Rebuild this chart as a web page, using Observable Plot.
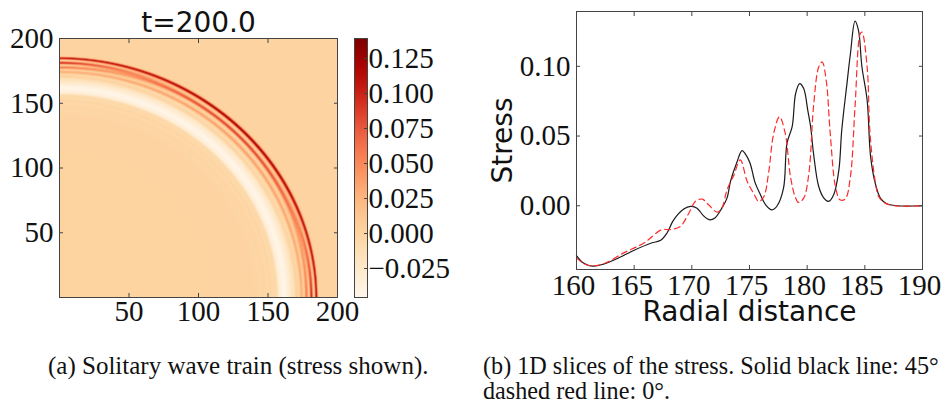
<!DOCTYPE html>
<html><head><meta charset="utf-8">
<script src="https://cdn.jsdelivr.net/npm/d3@7"></script>
<script src="https://cdn.jsdelivr.net/npm/@observablehq/plot@0.6"></script>
<style>
body{margin:0;width:941px;height:400px;overflow:hidden;background:#fff;position:relative}
.abs{position:absolute}
.cap{position:absolute;font-family:"Liberation Serif",serif;white-space:nowrap;color:#111;line-height:18px}
svg{overflow:visible}
</style></head><body>
<div id="left" class="abs" style="left:0;top:0"></div>
<div id="cbar" class="abs" style="left:354px;top:0"></div>
<div id="right" class="abs" style="left:470px;top:0"></div>
<div class="cap" style="left:48px;top:357px;font-size:25px">(a) Solitary wave train (stress shown).</div>
<div class="cap" style="left:483px;top:357px;font-size:24.2px">(b) 1D slices of the stress. Solid black line: 45°</div>
<div class="cap" style="left:483px;top:382px;font-size:24.2px">dashed red line: 0°.</div>
<script>
// ---- data ----
const title = "t=200.0";
const xLabel = "Radial distance";
const yLabel = "Stress";
const stressDomain = [-0.0457, 0.1393];
const mapTicks = [50, 100, 150, 200];
const cbarTicks = [-0.025, 0, 0.025, 0.05, 0.075, 0.1, 0.125];
const radTicks = [160, 165, 170, 175, 180, 185, 190];
const stressTicks = [0, 0.05, 0.1];

// 45 degree slice (solid black)
const blackR = [160,160.6,161.4,162.4,163.5,165.0,166.5,167.3,167.85,168.4,169.3,169.9,170.45,171.0,171.5,172.0,172.6,173.05,173.35,173.9,174.35,174.65,175.05,175.5,175.95,176.4,176.95,177.4,177.95,178.25,178.7,179.0,179.35,179.7,180.05,180.3,180.55,181.0,181.45,181.85,182.3,182.75,183.0,183.45,183.75,184.15,184.45,184.75,185.2,185.5,185.9,186.35,186.9,187.8,190];
const blackV = [-0.0357,-0.041,-0.0433,-0.0417,-0.038,-0.0319,-0.0267,-0.0248,-0.0195,-0.0105,-0.0024,-0.0005,-0.0017,-0.0071,-0.01,-0.0088,-0.0017,0.0055,0.0174,0.031,0.0395,0.0371,0.0305,0.0162,0.0079,0.0007,-0.0029,0.0,0.0126,0.0448,0.0567,0.0805,0.0876,0.084,0.0686,0.0567,0.0376,0.0138,0.0055,0.0031,0.0079,0.0257,0.0543,0.0876,0.109,0.1324,0.1257,0.0995,0.0757,0.0352,0.0162,0.0055,0.0014,0,0];
// 0 degree slice (dashed red)
const redR = [160,160.8,161.65,162.65,164.1,165.85,167.4,168.15,169.0,169.75,170.3,170.9,171.45,172.2,172.6,173.05,173.65,174.2,174.8,175.35,175.8,176.25,176.65,177.1,177.6,178.1,178.55,178.95,179.25,179.7,180.15,180.55,181.0,181.3,181.65,182.0,182.45,182.85,183.3,183.75,184.15,184.6,184.75,185.2,185.45,185.9,186.2,186.75,187.6,190];
const redV = [-0.0374,-0.0421,-0.0429,-0.0405,-0.0338,-0.0267,-0.0171,-0.0171,-0.0148,-0.0052,0.0031,0.0048,0.0007,-0.0045,-0.0017,0.0114,0.0221,0.0329,0.0174,0.009,0.0031,0.0067,0.0233,0.0519,0.0638,0.0519,0.021,0.0067,0.0024,0.0055,0.0233,0.071,0.0995,0.1031,0.09,0.0519,0.0138,0.0043,0.0048,0.021,0.071,0.1233,0.1245,0.0995,0.0519,0.0174,0.0067,0.0019,0,0];
// inner field (r < 160)
const innerR = [0,100,140,145,148,150,152,154,156,157.3,158.3,159.3];
const innerV = [0.001,0.001,0.0,-0.003,0.0,-0.005,-0.001,-0.006,-0.004,-0.02,-0.034,-0.036];

// ---- field for the map ----
const prof0 = d3.scaleLinear().domain(innerR.concat(redR)).range(innerV.concat(redV)).clamp(true);
const prof45 = d3.scaleLinear().domain(innerR.concat(blackR)).range(innerV.concat(blackV)).clamp(true);
function stress(x, y) {
  const r = Math.hypot(x, y);
  const w = Math.abs(Math.sin(2 * Math.atan2(y, x)));
  return (1 - w) * prof0(r) + w * prof45(r);
}

const serif = "Liberation Serif";
const sans = "DejaVu Sans";
const frameStroke = "#444";
const blank = () => "";

function boxAxes(xt, yt, xfmt, yfmt, xpad, ypad, xdx) {
  return [
    Plot.axisX(xt, {anchor: "bottom", tickSize: 0, tickPadding: xpad, tickFormat: xfmt, label: null, dx: xdx}),
    Plot.axisX(xt, {anchor: "bottom", tickSize: -4, tickFormat: blank, label: null, stroke: frameStroke}),
    Plot.axisX(xt, {anchor: "top", tickSize: -4, tickFormat: blank, label: null, stroke: frameStroke}),
    Plot.axisY(yt, {anchor: "left", tickSize: 0, tickPadding: ypad, tickFormat: yfmt, label: null}),
    Plot.axisY(yt, {anchor: "left", tickSize: -4, tickFormat: blank, label: null, stroke: frameStroke}),
    Plot.axisY(yt, {anchor: "right", tickSize: -4, tickFormat: blank, label: null, stroke: frameStroke})
  ];
}

const left = Plot.plot({
  width: 345, height: 340,
  marginLeft: 59, marginRight: 8, marginTop: 38, marginBottom: 43,
  style: {fontFamily: serif, fontSize: "29px", background: "transparent", color: "#111", overflow: "visible"},
  x: {domain: [0, 200]},
  y: {domain: [0, 200]},
  color: {type: "linear", scheme: "OrRd", domain: stressDomain},
  marks: [
    Plot.raster({x1: 0, y1: 0, x2: 200, y2: 200, fill: stress, pixelSize: 1}),
    Plot.frame({stroke: frameStroke}),
    ...boxAxes(mapTicks, mapTicks, d => String(d), d => String(d), 3, 6, 0),
    Plot.text([title], {text: d => d, frameAnchor: "top", lineAnchor: "middle", textAnchor: "middle", dy: -15, fontFamily: sans, fontSize: 28, fill: "#111"})
  ]
});
document.getElementById("left").append(left);

const cbar = Plot.plot({
  width: 116, height: 340,
  marginLeft: 0, marginRight: 103, marginTop: 38, marginBottom: 43,
  style: {fontFamily: serif, fontSize: "29px", background: "transparent", color: "#111", overflow: "visible"},
  x: {domain: [0, 1], axis: null},
  y: {domain: stressDomain, axis: null},
  color: {type: "linear", scheme: "OrRd", domain: stressDomain},
  marks: [
    Plot.raster({x1: 0, y1: stressDomain[0], x2: 1, y2: stressDomain[1], fill: (x, y) => y, pixelSize: 1}),
    Plot.frame({stroke: frameStroke}),
    Plot.axisY(cbarTicks, {anchor: "right", tickSize: -4, tickFormat: blank, label: null, stroke: frameStroke}),
    Plot.axisY(cbarTicks, {anchor: "right", tickSize: 0, tickPadding: 1, textAnchor: "start", tickFormat: d3.format(".3f"), label: null})
  ]
});
document.getElementById("cbar").append(cbar);

const lines = blackR.map((r, i) => ({r, v: blackV[i], s: "45"}));
const dashed = redR.map((r, i) => ({r, v: redV[i], s: "0"}));

const right = Plot.plot({
  width: 471, height: 335,
  marginLeft: 106, marginRight: 19, marginTop: 11, marginBottom: 66,
  style: {fontFamily: serif, fontSize: "29px", background: "transparent", color: "#111", overflow: "visible"},
  x: {domain: [160, 190]},
  y: {domain: stressDomain},
  marks: [
    Plot.line(lines, {x: "r", y: "v", stroke: "#1a1a1a", strokeWidth: 1.2, curve: "catmull-rom"}),
    Plot.line(dashed, {x: "r", y: "v", stroke: "#ff2a2a", strokeWidth: 1.2, strokeDasharray: "6,4", curve: "catmull-rom"}),
    Plot.frame({stroke: frameStroke}),
    ...boxAxes(radTicks, stressTicks, d => String(d), d3.format(".2f"), 5, 6, -3),
    Plot.text([yLabel], {text: d => d, frameAnchor: "left", lineAnchor: "middle", textAnchor: "middle", rotate: -90, dx: -73, fontFamily: sans, fontSize: 28, fill: "#111"}),
    Plot.text([xLabel], {text: d => d, frameAnchor: "bottom", lineAnchor: "middle", textAnchor: "middle", dy: 43, fontFamily: sans, fontSize: 28, fill: "#111"})
  ]
});
document.getElementById("right").append(right);
</script>
</body></html>
